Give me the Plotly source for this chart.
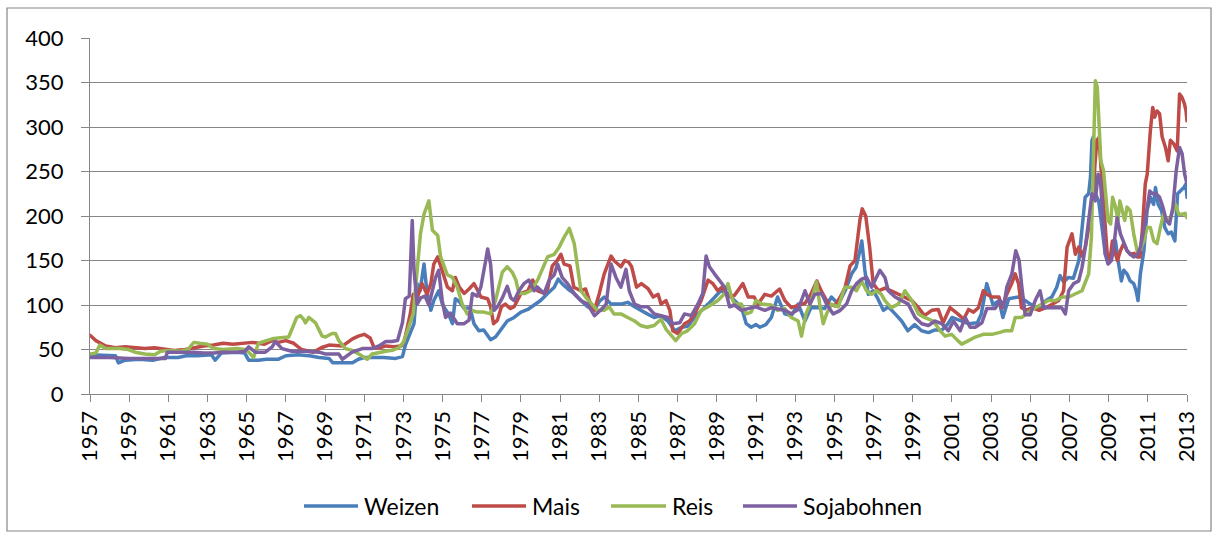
import plotly.graph_objects as go

# ---------------- data ----------------
series_names = ["Weizen", "Mais", "Reis", "Sojabohnen"]
series_colors = ["#4A7EBB", "#BE4B48", "#98B954", "#7D60A0"]

tick_years = [1957, 1959, 1961, 1963, 1965, 1967, 1969, 1971, 1973, 1975,
              1977, 1979, 1981, 1983, 1985, 1987, 1989, 1991, 1993, 1995,
              1997, 1999, 2001, 2003, 2005, 2007, 2009, 2011, 2013]
tick_labels = ["1957", "1959", "1961", "1963", "1965", "1967", "1969", "1971",
               "1973", "1975", "1977", "1979", "1981", "1983", "1985", "1987",
               "1989", "1991", "1993", "1995", "1997", "1999", "2001", "2003",
               "2005", "2007", "2009", "2011", "2013"]
y_ticks = [0, 50, 100, 150, 200, 250, 300, 350, 400]

# (year, index value) pairs
weizen = [
    (1957.0, 44), (1958.3, 43), (1958.45, 35), (1958.8, 38), (1959.5, 39), (1960.2, 38),
    (1960.8, 41), (1961.5, 41), (1961.9, 43), (1962.5, 43), (1963.2, 44), (1963.39, 38),
    (1963.7, 46), (1964.5, 47), (1964.9, 46), (1965.1, 38), (1965.6, 38), (1966.0, 39),
    (1966.6, 39), (1967.0, 43), (1967.6, 44), (1968.2, 43), (1968.7, 41), (1969.2, 40),
    (1969.4, 35), (1970.4, 35), (1970.7, 39), (1971.0, 41), (1972.0, 41), (1972.6, 40),
    (1972.95, 42), (1973.1, 55), (1973.3, 66), (1973.54, 79), (1973.7, 124), (1973.85, 116),
    (1974.05, 146), (1974.2, 115), (1974.4, 94), (1974.55, 105), (1974.8, 116), (1975.0, 100),
    (1975.3, 90), (1975.5, 79), (1975.65, 107), (1975.85, 104), (1976.1, 96), (1976.4, 97),
    (1976.6, 79), (1976.85, 71), (1977.1, 72), (1977.45, 61), (1977.7, 64), (1977.95, 71),
    (1978.3, 82), (1978.65, 86), (1979.0, 92), (1979.35, 95), (1979.7, 101), (1980.0, 105),
    (1980.36, 113), (1980.7, 120), (1980.9, 129), (1981.1, 124), (1981.4, 118), (1981.7, 113),
    (1982.06, 105), (1982.4, 98), (1982.75, 94), (1983.0, 104), (1983.25, 109), (1983.6, 101),
    (1984.1, 101), (1984.45, 103), (1984.8, 98), (1985.1, 94), (1985.45, 90), (1985.8, 86),
    (1986.15, 88), (1986.5, 82), (1986.85, 71), (1987.2, 75), (1987.5, 76), (1987.86, 86),
    (1988.2, 94), (1988.55, 101), (1988.9, 109), (1989.2, 116), (1989.57, 113), (1989.9, 105),
    (1990.25, 98), (1990.5, 79), (1990.75, 75), (1991.0, 78), (1991.2, 75), (1991.5, 78),
    (1991.78, 86), (1992.1, 109), (1992.47, 90), (1992.8, 88), (1993.15, 101), (1993.5, 82),
    (1993.8, 97), (1994.2, 97), (1994.5, 96), (1994.85, 109), (1995.2, 101), (1995.55, 116),
    (1995.88, 135), (1996.1, 142), (1996.3, 161), (1996.4, 172), (1996.55, 140), (1996.73, 112),
    (1996.98, 116), (1997.2, 108), (1997.5, 94), (1997.75, 98), (1998.1, 90), (1998.43, 82),
    (1998.75, 71), (1999.1, 78), (1999.45, 71), (1999.8, 69), (2000.14, 72), (2000.5, 72),
    (2000.8, 79), (2001.0, 86), (2001.5, 82), (2001.85, 79), (2002.3, 80), (2002.5, 90),
    (2002.78, 124), (2002.95, 112), (2003.1, 100), (2003.4, 105), (2003.6, 86), (2003.9, 107),
    (2004.4, 109), (2004.75, 105), (2005.0, 101), (2005.45, 96), (2005.8, 105), (2006.1, 109),
    (2006.35, 120), (2006.52, 133), (2006.7, 126), (2006.95, 131), (2007.2, 130), (2007.48, 150),
    (2007.64, 187), (2007.8, 221), (2007.98, 225), (2008.07, 243), (2008.15, 285), (2008.22, 289),
    (2008.32, 225), (2008.49, 217), (2008.66, 187), (2008.83, 157), (2009.0, 150), (2009.17, 161),
    (2009.35, 172), (2009.48, 150), (2009.65, 127), (2009.77, 139), (2009.94, 135), (2010.1, 127),
    (2010.28, 124), (2010.4, 116), (2010.5, 105), (2010.62, 135), (2010.8, 161), (2010.96, 206),
    (2011.13, 221), (2011.3, 213), (2011.39, 232), (2011.53, 213), (2011.7, 206), (2011.87, 187),
    (2012.04, 180), (2012.2, 182), (2012.38, 172), (2012.52, 225), (2012.67, 228), (2012.84, 232),
    (2012.95, 236), (2013.0, 221),
]

mais = [
    (1957.0, 66), (1957.3, 60), (1957.8, 54), (1958.3, 52), (1958.8, 53), (1959.3, 52),
    (1959.8, 51), (1960.3, 52), (1960.8, 50), (1961.3, 49), (1961.85, 50), (1962.3, 52),
    (1962.8, 54), (1963.3, 55), (1963.8, 57), (1964.3, 56), (1964.8, 57), (1965.3, 58),
    (1965.6, 57), (1965.9, 56), (1966.3, 60), (1966.6, 58), (1967.0, 60), (1967.4, 57),
    (1967.8, 50), (1968.4, 47), (1968.8, 52), (1969.2, 55), (1969.9, 54), (1970.4, 62),
    (1970.7, 65), (1971.0, 67), (1971.3, 63), (1971.5, 52), (1971.8, 52), (1972.1, 54),
    (1972.5, 53), (1972.9, 54), (1973.05, 60), (1973.35, 90), (1973.5, 112), (1973.7, 108),
    (1973.95, 124), (1974.2, 112), (1974.4, 124), (1974.55, 146), (1974.75, 154), (1974.9, 143),
    (1975.1, 128), (1975.25, 120), (1975.5, 116), (1975.65, 131), (1975.85, 120), (1976.1, 113),
    (1976.35, 118), (1976.6, 124), (1976.8, 116), (1976.95, 109), (1977.3, 107), (1977.45, 98),
    (1977.6, 79), (1977.8, 83), (1978.0, 98), (1978.2, 101), (1978.45, 96), (1978.65, 98),
    (1979.0, 113), (1979.35, 116), (1979.6, 128), (1979.85, 116), (1980.2, 113), (1980.36, 118),
    (1980.6, 144), (1980.85, 150), (1981.04, 157), (1981.2, 146), (1981.5, 144), (1981.7, 120),
    (1982.06, 116), (1982.3, 118), (1982.55, 101), (1982.75, 94), (1983.0, 113), (1983.25, 135),
    (1983.6, 155), (1983.75, 150), (1984.1, 143), (1984.3, 150), (1984.5, 148), (1984.65, 143),
    (1984.9, 120), (1985.15, 124), (1985.5, 118), (1985.75, 109), (1986.0, 112), (1986.15, 101),
    (1986.4, 105), (1986.6, 94), (1986.75, 71), (1987.0, 68), (1987.35, 79), (1987.6, 82),
    (1987.86, 90), (1988.2, 105), (1988.55, 128), (1988.8, 124), (1989.05, 116), (1989.25, 120),
    (1989.57, 109), (1989.9, 111), (1990.33, 124), (1990.6, 109), (1990.9, 109), (1991.1, 101),
    (1991.45, 112), (1991.78, 110), (1992.2, 118), (1992.47, 105), (1992.8, 97), (1993.15, 100),
    (1993.5, 102), (1993.8, 112), (1994.1, 127), (1994.35, 115), (1994.7, 101), (1995.02, 99),
    (1995.3, 109), (1995.55, 120), (1995.8, 144), (1996.05, 150), (1996.3, 195), (1996.42, 208),
    (1996.6, 200), (1996.8, 165), (1996.98, 124), (1997.25, 116), (1997.58, 119), (1997.9, 116),
    (1998.26, 112), (1998.6, 109), (1998.95, 105), (1999.29, 97), (1999.6, 88), (1999.97, 94),
    (2000.3, 95), (2000.55, 80), (2000.9, 97), (2001.3, 90), (2001.6, 84), (2001.85, 95),
    (2002.1, 92), (2002.35, 97), (2002.6, 116), (2002.78, 112), (2003.04, 109), (2003.4, 109),
    (2003.55, 97), (2003.8, 112), (2004.05, 124), (2004.23, 135), (2004.4, 124), (2004.55, 97),
    (2004.8, 94), (2005.1, 97), (2005.45, 94), (2005.8, 97), (2006.1, 101), (2006.45, 105),
    (2006.7, 116), (2006.88, 165), (2007.13, 180), (2007.3, 157), (2007.47, 165), (2007.64, 155),
    (2007.81, 165), (2007.98, 187), (2008.15, 217), (2008.3, 260), (2008.4, 285), (2008.5, 288),
    (2008.63, 247), (2008.76, 206), (2008.93, 157), (2009.07, 150), (2009.19, 172), (2009.3, 161),
    (2009.45, 150), (2009.6, 161), (2009.77, 169), (2009.94, 161), (2010.1, 157), (2010.3, 158),
    (2010.45, 154), (2010.6, 154), (2010.73, 187), (2010.87, 236), (2010.97, 247), (2011.13, 296),
    (2011.25, 322), (2011.35, 311), (2011.47, 318), (2011.6, 315), (2011.73, 289), (2011.9, 277),
    (2012.04, 262), (2012.15, 285), (2012.33, 281), (2012.5, 273), (2012.62, 337), (2012.75, 333),
    (2012.87, 326), (2012.95, 318), (2013.0, 307),
]

reis = [
    (1957.0, 45), (1957.3, 46), (1957.5, 55), (1957.8, 51), (1958.5, 51), (1958.95, 50),
    (1959.3, 47), (1959.8, 45), (1960.3, 44), (1960.6, 48), (1961.1, 49), (1961.6, 48),
    (1962.0, 50), (1962.3, 58), (1962.6, 57), (1963.0, 56), (1963.3, 51), (1963.8, 50),
    (1964.5, 51), (1964.9, 50), (1965.1, 47), (1965.35, 41), (1965.6, 57), (1965.95, 60),
    (1966.3, 62), (1966.6, 63), (1966.97, 64), (1967.14, 64), (1967.35, 75), (1967.55, 86),
    (1967.74, 88), (1967.9, 84), (1968.0, 80), (1968.17, 86), (1968.51, 80), (1968.85, 65),
    (1969.02, 64), (1969.36, 68), (1969.53, 68), (1969.7, 60), (1970.04, 51), (1970.38, 49),
    (1970.72, 45), (1971.15, 39), (1971.4, 45), (1971.75, 47), (1972.1, 48), (1972.43, 49),
    (1972.77, 52), (1973.0, 58), (1973.5, 90), (1973.7, 139), (1973.87, 180), (1974.05, 202),
    (1974.3, 217), (1974.48, 184), (1974.75, 178), (1974.9, 154), (1975.24, 134), (1975.5, 131),
    (1975.75, 120), (1976.0, 101), (1976.26, 90), (1976.5, 94), (1976.77, 92), (1977.1, 92),
    (1977.45, 90), (1977.7, 105), (1978.05, 137), (1978.3, 143), (1978.55, 137), (1978.74, 128),
    (1978.9, 113), (1979.2, 113), (1979.5, 116), (1979.85, 128), (1980.2, 146), (1980.36, 154),
    (1980.7, 157), (1980.95, 165), (1981.2, 176), (1981.3, 180), (1981.47, 186), (1981.72, 169),
    (1981.9, 139), (1982.06, 116), (1982.3, 109), (1982.6, 101), (1982.9, 94), (1983.25, 94),
    (1983.5, 98), (1983.75, 90), (1984.1, 90), (1984.45, 86), (1984.8, 82), (1985.1, 77),
    (1985.45, 75), (1985.8, 77), (1986.15, 84), (1986.4, 73), (1986.65, 66), (1986.9, 60),
    (1987.2, 68), (1987.5, 71), (1987.86, 79), (1988.2, 94), (1988.55, 98), (1989.05, 105),
    (1989.4, 113), (1989.57, 124), (1989.75, 109), (1989.9, 101), (1990.25, 101), (1990.5, 90),
    (1990.75, 92), (1991.0, 105), (1991.3, 101), (1991.78, 100), (1992.1, 94), (1992.47, 96),
    (1992.8, 86), (1993.15, 82), (1993.32, 65), (1993.55, 90), (1993.83, 105), (1994.08, 126),
    (1994.25, 101), (1994.43, 79), (1994.6, 90), (1994.85, 101), (1995.2, 98), (1995.53, 120),
    (1995.88, 120), (1996.13, 116), (1996.39, 127), (1996.64, 116), (1996.9, 112), (1997.15, 116),
    (1997.4, 112), (1997.58, 105), (1997.9, 97), (1998.26, 101), (1998.6, 116), (1998.95, 105),
    (1999.29, 90), (1999.6, 86), (2000.05, 82), (2000.4, 71), (2000.65, 65), (2000.99, 67),
    (2001.3, 60), (2001.5, 56), (2001.85, 60), (2002.19, 64), (2002.6, 67), (2003.04, 67),
    (2003.4, 69), (2003.7, 71), (2004.05, 71), (2004.23, 86), (2004.57, 86), (2004.9, 92),
    (2005.25, 97), (2005.6, 101), (2005.93, 105), (2006.3, 105), (2006.62, 109), (2006.96, 109),
    (2007.3, 112), (2007.64, 116), (2007.8, 125), (2007.98, 135), (2008.12, 176), (2008.22, 262),
    (2008.32, 352), (2008.42, 345), (2008.5, 300), (2008.6, 262), (2008.74, 251), (2008.87, 217),
    (2008.97, 195), (2009.1, 191), (2009.2, 221), (2009.35, 210), (2009.48, 195), (2009.57, 217),
    (2009.69, 206), (2009.82, 195), (2009.94, 210), (2010.1, 206), (2010.28, 180), (2010.45, 161),
    (2010.62, 163), (2010.8, 172), (2010.96, 187), (2011.13, 187), (2011.3, 172), (2011.47, 169),
    (2011.64, 187), (2011.8, 202), (2011.99, 195), (2012.15, 198), (2012.41, 213), (2012.58, 202),
    (2012.75, 202), (2012.9, 203), (2013.0, 198),
]

sojabohnen = [
    (1957.0, 41), (1958.0, 41), (1959.0, 40), (1960.0, 40), (1960.85, 40), (1960.95, 47),
    (1961.5, 47), (1962.3, 47), (1962.8, 46), (1963.3, 46), (1963.8, 47), (1964.5, 47),
    (1964.9, 48), (1965.1, 53), (1965.44, 47), (1965.95, 47), (1966.3, 53), (1966.46, 59),
    (1966.8, 51), (1967.3, 48), (1968.0, 48), (1968.7, 47), (1969.0, 45), (1969.7, 45),
    (1969.88, 39), (1970.38, 47), (1970.9, 51), (1971.4, 51), (1971.75, 54), (1972.1, 59),
    (1972.4, 59), (1972.7, 60), (1972.95, 80), (1973.1, 107), (1973.3, 110), (1973.45, 195),
    (1973.54, 139), (1973.7, 101), (1973.88, 108), (1974.1, 110), (1974.3, 100), (1974.47, 115),
    (1974.64, 131), (1974.8, 139), (1974.98, 105), (1975.15, 86), (1975.4, 91), (1975.75, 79),
    (1976.1, 79), (1976.35, 83), (1976.52, 113), (1976.77, 110), (1976.95, 120), (1977.2, 150),
    (1977.3, 163), (1977.45, 146), (1977.63, 94), (1977.8, 98), (1978.05, 108), (1978.3, 121),
    (1978.48, 108), (1978.65, 105), (1978.9, 116), (1979.15, 124), (1979.4, 128), (1979.67, 116),
    (1979.85, 120), (1980.18, 113), (1980.44, 128), (1980.7, 134), (1980.87, 146), (1981.1, 131),
    (1981.38, 124), (1981.72, 113), (1982.06, 105), (1982.4, 101), (1982.75, 88), (1983.1, 95),
    (1983.35, 101), (1983.6, 146), (1983.85, 131), (1984.1, 120), (1984.36, 140), (1984.53, 116),
    (1984.8, 101), (1985.13, 98), (1985.47, 98), (1985.8, 90), (1986.15, 88), (1986.5, 86),
    (1986.75, 79), (1987.1, 80), (1987.35, 90), (1987.7, 88), (1988.03, 101), (1988.28, 113),
    (1988.45, 155), (1988.62, 143), (1988.88, 135), (1989.14, 128), (1989.4, 120), (1989.65, 98),
    (1989.9, 100), (1990.25, 94), (1990.6, 96), (1990.95, 98), (1991.1, 97), (1991.45, 94),
    (1991.78, 97), (1992.1, 96), (1992.47, 94), (1992.8, 90), (1993.15, 95), (1993.5, 116),
    (1993.75, 101), (1994.0, 112), (1994.35, 113), (1994.6, 101), (1994.94, 90), (1995.3, 94),
    (1995.62, 101), (1995.88, 116), (1996.13, 124), (1996.39, 129), (1996.64, 131), (1996.9, 120),
    (1997.15, 131), (1997.32, 139), (1997.58, 131), (1997.75, 116), (1998.1, 109), (1998.43, 105),
    (1998.77, 101), (1999.12, 86), (1999.46, 79), (1999.8, 77), (2000.14, 82), (2000.48, 79),
    (2000.82, 71), (2001.08, 82), (2001.42, 71), (2001.68, 86), (2001.93, 75), (2002.19, 75),
    (2002.53, 80), (2002.78, 96), (2003.2, 96), (2003.46, 105), (2003.63, 97), (2003.8, 120),
    (2004.06, 135), (2004.26, 161), (2004.43, 150), (2004.57, 120), (2004.74, 89), (2004.99, 89),
    (2005.25, 105), (2005.5, 116), (2005.68, 97), (2005.94, 97), (2006.36, 97), (2006.6, 97),
    (2006.79, 90), (2006.96, 116), (2007.21, 124), (2007.47, 127), (2007.64, 142), (2007.81, 165),
    (2007.98, 195), (2008.15, 225), (2008.32, 217), (2008.46, 247), (2008.58, 240), (2008.7, 198),
    (2008.83, 157), (2008.97, 146), (2009.14, 150), (2009.26, 165), (2009.43, 198), (2009.6, 180),
    (2009.77, 169), (2009.94, 161), (2010.11, 157), (2010.28, 154), (2010.45, 156), (2010.62, 165),
    (2010.79, 184), (2010.96, 210), (2011.1, 228), (2011.25, 225), (2011.42, 225), (2011.6, 221),
    (2011.77, 210), (2011.94, 195), (2012.11, 191), (2012.28, 210), (2012.45, 251), (2012.62, 277),
    (2012.75, 270), (2012.88, 247), (2012.96, 240), (2013.0, 236),
]

all_series = [weizen, mais, reis, sojabohnen]

# ---------------- layout geometry ----------------
W, H = 1218, 535
ML, MR, MT, MB = 90, 31, 38, 141
PW, PH = W - ML - MR, H - MT - MB


def px_x(p):
    return (p - ML) / PW


def px_y(p):
    return 1 - (p - MT) / PH


FONT = "Lato, 'Open Sans', sans-serif"
GRID = "#868686"

fig = go.Figure()
for name, color, data in zip(series_names, series_colors, all_series):
    fig.add_trace(go.Scatter(
        x=[d[0] for d in data], y=[d[1] for d in data],
        mode="lines", name=name,
        line=dict(color=color, width=3.5),
        showlegend=False,
    ))

shapes = [
    # outer chart frame
    dict(type="rect", xref="paper", yref="paper",
         x0=px_x(7), x1=px_x(1211), y0=px_y(531), y1=px_y(8),
         line=dict(color=GRID, width=1.2), fillcolor="rgba(0,0,0,0)", layer="below"),
]
annotations = []
legend_line_x = [(304, 358), (472, 526), (611, 666), (743, 797)]
legend_y = 506
for (x0, x1), name, color in zip(legend_line_x, series_names, series_colors):
    shapes.append(dict(type="line", xref="paper", yref="paper",
                       x0=px_x(x0), x1=px_x(x1), y0=px_y(legend_y), y1=px_y(legend_y),
                       line=dict(color=color, width=3.5)))
    annotations.append(dict(text=name, xref="paper", yref="paper",
                            x=px_x(x1 + 4), y=px_y(legend_y), xanchor="left", yanchor="middle",
                            showarrow=False, font=dict(family=FONT, size=23, color="black")))

fig.update_layout(
    width=W, height=H,
    margin=dict(l=ML, r=MR, t=MT, b=MB, pad=0),
    paper_bgcolor="white", plot_bgcolor="white",
    showlegend=False,
    shapes=shapes, annotations=annotations,
    xaxis=dict(
        range=[1957, 2013], tickmode="array", tickvals=tick_years, ticktext=tick_labels,
        tickangle=-90, ticks="outside", ticklen=7, tickcolor=GRID, tickwidth=1.3,
        showline=True, linecolor=GRID, linewidth=1.3, showgrid=False, zeroline=False,
        tickfont=dict(family=FONT, size=22, color="black"),
    ),
    yaxis=dict(
        range=[0, 400], tickmode="array", tickvals=y_ticks,
        ticks="outside", ticklen=8, tickcolor=GRID, tickwidth=1.3,
        showline=True, linecolor=GRID, linewidth=1.3,
        showgrid=True, gridcolor=GRID, gridwidth=1.3, zeroline=False,
        tickfont=dict(family=FONT, size=22, color="black"),
        ticklabelstandoff=13,
    ),
)

post = """
document.body.style.margin = '0';
document.body.style.padding = '0';
document.body.style.overflow = 'hidden';
document.querySelectorAll('.scatterlayer path.js-line').forEach(function(p){
  p.style.strokeLinejoin='round'; p.style.strokeLinecap='round';
});
"""
fig.write_html("out.html", post_script=post, config={"displayModeBar": False})
